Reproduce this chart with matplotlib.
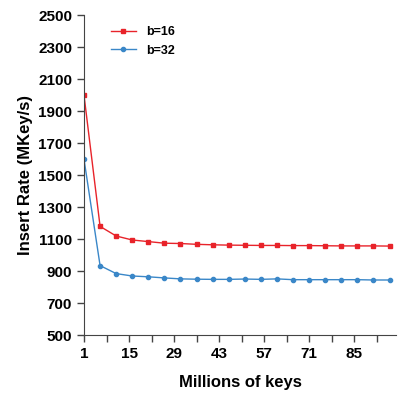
import matplotlib
matplotlib.use("Agg")
import matplotlib.pyplot as plt

x = list(range(1, 97, 5))
b16 = [2000,1180,1120,1095,1085,1075,1073,1068,1065,1063,1062,1061,1061,1060,1060,1059,1058,1058,1058,1057]
b32 = [1600,935,885,870,865,858,852,850,849,849,851,849,852,847,847,847,847,847,845,845]

plt.rcParams['font.family'] = ['Liberation Sans', 'DejaVu Sans']
fig = plt.figure(figsize=(4, 4), dpi=100)
ax = fig.add_axes([0.21, 0.162, 0.78, 0.8])
ax.plot(x, b16, color='#e8232a', marker='s', markersize=3.5, lw=1, label='b=16')
ax.plot(x, b32, color='#3a87c8', marker='o', markersize=3, lw=1, label='b=32')
ax.set_xlim(1, 98)
ax.set_ylim(500, 2500)
ax.set_xticks(range(1, 93, 7))
ax.set_xticklabels([str(v) if (v - 1) % 14 == 0 else '' for v in range(1, 93, 7)])
ax.set_yticks(range(500, 2501, 200))
for s in ['top', 'right']:
    ax.spines[s].set_visible(False)
ax.spines['left'].set_color('#444444')
ax.spines['bottom'].set_color('#444444')
ax.tick_params(labelsize=11, width=1, length=5, color='#444444')
for l in ax.get_xticklabels() + ax.get_yticklabels():
    l.set_fontweight('bold')
ax.set_xlabel('Millions of keys', fontsize=12, fontweight='bold', labelpad=10)
ax.set_ylabel('Insert Rate (MKey/s)', fontsize=12, fontweight='bold')
leg = ax.legend(loc='upper left', bbox_to_anchor=(0.05, 1.0), frameon=False, prop={'weight': 'bold', 'size': 9})
fig.savefig('out.png')
